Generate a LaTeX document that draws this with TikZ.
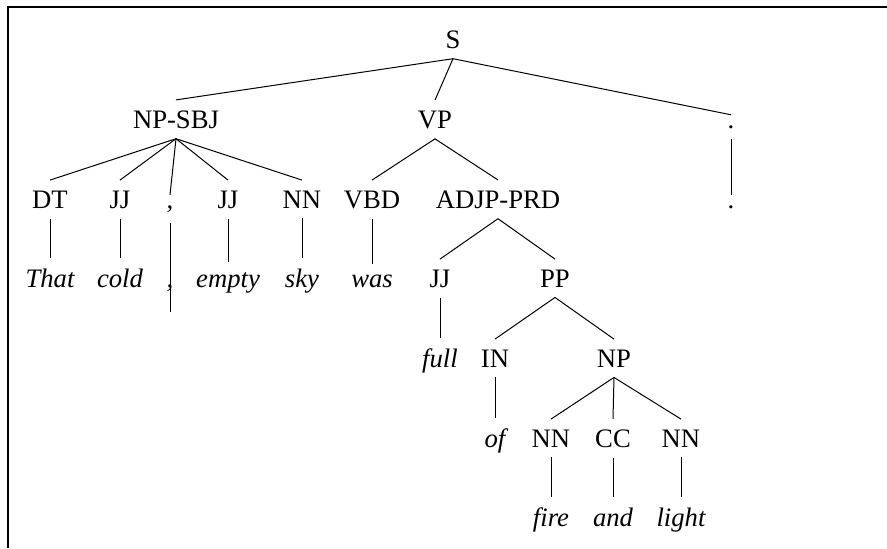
\documentclass[tikz,border=0pt]{standalone}
\usepackage{fontspec}
\setmainfont{Liberation Serif}
\usetikzlibrary{calc}

\begin{document}
\begin{tikzpicture}[
    x=0.45pt, y=-0.45pt,
    tag/.style={anchor=base, inner sep=4.5pt, font=\fontsize{12}{14}\selectfont},
    word/.style={anchor=base, inner sep=4.5pt, font=\fontsize{12}{14}\selectfont\itshape},
    branch/.style={draw=black, line width=0.45pt},
    frame/.style={draw=black, line width=0.8pt}
]
    \useasboundingbox (0,0) rectangle (887,548);
    \draw[frame] (8,548) -- (8,7) -- (887,7);

    % Level 0-1
    \node[tag] (s) at (453,48) {S};
    \node[tag] (npsbj) at (176,128) {NP-SBJ};
    \node[tag] (vp) at (435,128) {VP};
    \node[tag] (punct) at (731,128) {.};

    % Level 2
    \node[tag] (dt) at (50,208) {DT};
    \node[tag] (jja) at (120,208) {JJ};
    \node[tag] (comma) at (170,208) {,};
    \node[tag] (jjb) at (228,208) {JJ};
    \node[tag] (nna) at (302,208) {NN};
    \node[tag] (vbd) at (372,208) {VBD};
    \node[tag] (adjp) at (498,208) {ADJP-PRD};
    \node[tag] (w_punct) at (731,208) {.};

    % Level 3
    \node[word] (w_that) at (50,287) {That};
    \node[word] (w_cold) at (120,287) {cold};
    \node[word] (w_comma) at (170,287) {,};
    \node[word] (w_empty) at (228,287) {empty};
    \node[word] (w_sky) at (302,287) {sky};
    \node[word] (w_was) at (372,287) {was};
    \node[tag] (jjc) at (440,287) {JJ};
    \node[tag] (pp) at (555,287) {PP};

    % Level 4-6
    \node[word] (w_full) at (440,367) {full};
    \node[tag] (in) at (495,367) {IN};
    \node[tag] (np) at (614,367) {NP};
    \node[word] (w_of) at (495,447) {of};
    \node[tag] (nnb) at (551,447) {NN};
    \node[tag] (cc) at (613,447) {CC};
    \node[tag] (nnc) at (681,447) {NN};
    \node[word] (w_fire) at (551,526) {fire};
    \node[word] (w_and) at (613,526) {and};
    \node[word] (w_light) at (681,526) {light};

    % Branches
    \draw[branch] (s.south) -- (npsbj.north);
    \draw[branch] (s.south) -- (vp.north);
    \draw[branch] (s.south) -- (punct.north);
    \draw[branch] (npsbj.south) -- (dt.north);
    \draw[branch] (npsbj.south) -- (jja.north);
    \draw[branch] (npsbj.south) -- (comma.north);
    \draw[branch] (npsbj.south) -- (jjb.north);
    \draw[branch] (npsbj.south) -- (nna.north);
    \draw[branch] (vp.south) -- (vbd.north);
    \draw[branch] (vp.south) -- (adjp.north);
    \draw[branch] (punct.south) -- (w_punct.north);
    \draw[branch] (dt.south) -- (w_that.north);
    \draw[branch] (jja.south) -- (w_cold.north);
    \draw[branch] (comma.south) -- ($(w_comma.base)+(0,25)$);
    \draw[branch] (jjb.south) -- (w_empty.north);
    \draw[branch] (nna.south) -- (w_sky.north);
    \draw[branch] (vbd.south) -- (w_was.north);
    \draw[branch] (adjp.south) -- (jjc.north);
    \draw[branch] (adjp.south) -- (pp.north);
    \draw[branch] (jjc.south) -- (w_full.north);
    \draw[branch] (pp.south) -- (in.north);
    \draw[branch] (pp.south) -- (np.north);
    \draw[branch] (in.south) -- (w_of.north);
    \draw[branch] (np.south) -- (nnb.north);
    \draw[branch] (np.south) -- (cc.north);
    \draw[branch] (np.south) -- (nnc.north);
    \draw[branch] (nnb.south) -- (w_fire.north);
    \draw[branch] (cc.south) -- (w_and.north);
    \draw[branch] (nnc.south) -- (w_light.north);
\end{tikzpicture}
\end{document}
